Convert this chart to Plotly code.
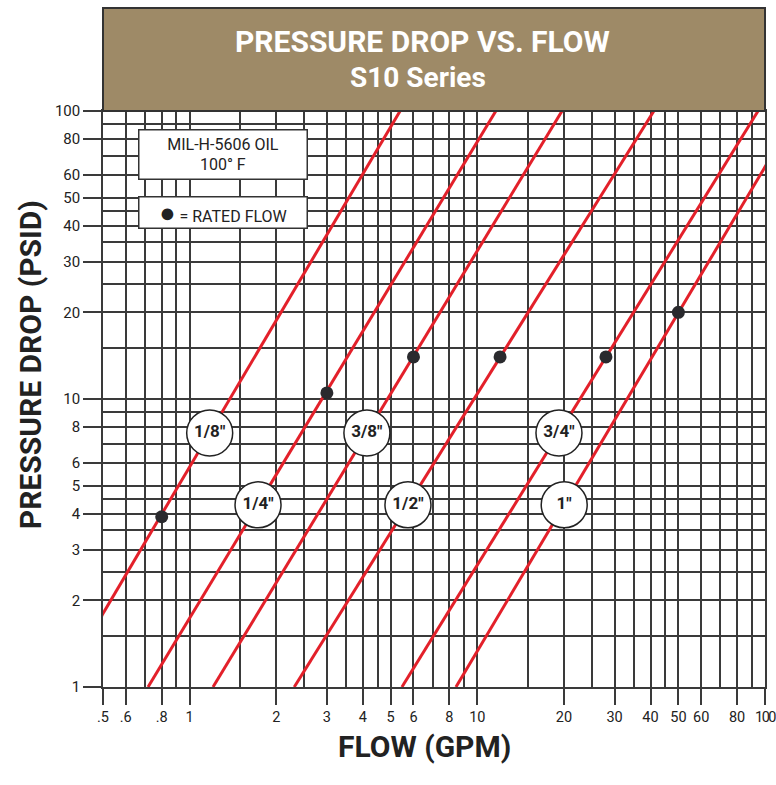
import numpy as np
import plotly.graph_objects as go

# ---------------- data ----------------
sizes = ['1/8"', '1/4"', '3/8"', '1/2"', '3/4"', '1"']
# flow (GPM) where each size's curve crosses 1 PSID and 100 PSID
flow_at_1psid = [0.353, 0.717, 1.206, 2.31, 5.47, 8.43]
flow_at_100psid = [5.39, 11.6, 19.7, 41.1, 94.6, 130.5]
# rated flow points
rated_flow = [0.8, 3.0, 6.0, 12.0, 28.0, 50.0]
rated_dp = [3.9, 10.5, 14.0, 14.0, 14.0, 20.0]
# pressure drop at which each size label sits on its curve
label_dp = [7.62, 4.29, 7.62, 4.29, 7.62, 4.29]

x_tick_vals = [0.5, 0.6, 0.8, 1, 2, 3, 4, 5, 6, 8, 10, 20, 30, 40, 50, 60, 80, 100]
x_tick_text = ['.5', '.6', '.8', '1', '2', '3', '4', '5', '6', '8', '10', '20', '30', '40', '50', '60', '80',
               "<span style='letter-spacing:-1.5px'>100</span>"]
x_minor_vals = [0.7, 0.9, 1.5, 2.5, 3.5, 4.5, 7, 9, 15, 25, 35, 45, 70, 90]
y_tick_vals = [1, 2, 3, 4, 5, 6, 8, 10, 20, 30, 40, 50, 60, 80, 100]
y_tick_text = ['1', '2', '3', '4', '5', '6', '8', '10', '20', '30', '40', '50', '60', '80', '100']
y_minor_vals = [1.5, 2.5, 3.5, 4.5, 7, 9, 15, 25, 35, 45, 70, 90]

FONT = "Roboto, Liberation Sans, sans-serif"
RED = "#E3202A"
GRID = "#3a3a3a"
DARK = "#2a2a2e"

fig = go.Figure()

# curves
for name, q1, q100 in zip(sizes, flow_at_1psid, flow_at_100psid):
    fig.add_trace(go.Scatter(x=[q1, q100], y=[1, 100], mode="lines",
                             line=dict(color=RED, width=3), showlegend=False,
                             hoverinfo="skip"))

# rated flow dots
fig.add_trace(go.Scatter(x=rated_flow, y=rated_dp, mode="markers",
                         marker=dict(color=DARK, size=13), showlegend=False))

# labels in circles, positioned on each curve
lab_x = []
for q1, q100, dp in zip(flow_at_1psid, flow_at_100psid, label_dp):
    slope = 2.0 / np.log10(q100 / q1)
    lab_x.append(q1 * 10 ** (np.log10(dp) / slope))
fig.add_trace(go.Scatter(x=lab_x, y=label_dp, mode="markers+text",
                         text=["<b>" + s + "</b>" for s in sizes], textposition="middle center",
                         textfont=dict(family=FONT, size=17, color="#222"),
                         marker=dict(size=46, color="white",
                                     line=dict(color="#222", width=1.5)),
                         showlegend=False))

axis_common = dict(type="log", tickmode="array", ticks="outside", tickwidth=1.5,
                   tickcolor=GRID, showgrid=True, gridcolor=GRID, gridwidth=1.6,
                   showline=True, linecolor=GRID, linewidth=1.6, mirror=True,
                   zeroline=False, automargin=False, ticklabeloverflow="allow")

fig.update_xaxes(range=[np.log10(0.5), np.log10(100)],
                 tickvals=x_tick_vals, ticktext=x_tick_text, ticklen=16,
                 tickfont=dict(family=FONT, size=14.5, color="#222"),
                 minor=dict(tickmode="array", tickvals=x_minor_vals, showgrid=True,
                            gridcolor=GRID, gridwidth=1.6, ticks=""),
                 **axis_common)
fig.update_yaxes(range=[0, 2],
                 tickvals=y_tick_vals, ticktext=y_tick_text, ticklen=18,
                 tickfont=dict(family=FONT, size=15, color="#222"),
                 minor=dict(tickmode="array", tickvals=y_minor_vals, showgrid=True,
                            gridcolor=GRID, gridwidth=1.6, ticks=""),
                 **axis_common)

# title box
fig.add_shape(type="rect", xref="paper", yref="paper", x0=0, x1=1, y0=1, y1=1.1788,
              fillcolor="#9E8A67", line=dict(color="#333", width=2), layer="above")

annotations = [
    dict(text="<b>PRESSURE DROP VS. FLOW</b>", x=0.482, y=1.1198, xref="paper", yref="paper",
         showarrow=False, font=dict(family=FONT, size=30, color="white"), xanchor="center", yanchor="middle"),
    dict(text="<b>S10 Series</b>", x=0.476, y=1.0573, xref="paper", yref="paper",
         showarrow=False, font=dict(family=FONT, size=28, color="white"), xanchor="center", yanchor="middle"),
    dict(text="<b>PRESSURE DROP (PSID)</b>", x=-0.110, y=0.559, xref="paper", yref="paper",
         showarrow=False, textangle=-90, font=dict(family=FONT, size=30, color="#222"),
         xanchor="center", yanchor="middle"),
    dict(text="<b>FLOW (GPM)</b>", x=0.485, y=-0.104, xref="paper", yref="paper",
         showarrow=False, font=dict(family=FONT, size=30, color="#222"),
         xanchor="center", yanchor="middle"),
    dict(text="MIL-H-5606 OIL<br>100° F", x=0.0529, y=0.96875, xref="paper", yref="paper",
         showarrow=False, xanchor="left", yanchor="top", width=167, height=48,
         bgcolor="white", bordercolor="#333", borderwidth=1.5, borderpad=0,
         font=dict(family=FONT, size=16, color="#222")),
    dict(text="<span style='font-size:27px'>●</span> = RATED FLOW", x=0.0529, y=0.8524,
         xref="paper", yref="paper",
         showarrow=False, xanchor="left", yanchor="top", width=167, height=30,
         bgcolor="white", bordercolor="#333", borderwidth=1.5, borderpad=0,
         font=dict(family=FONT, size=16, color="#222")),
]

fig.update_layout(width=776, height=785,
                  margin=dict(l=103, r=11, t=111, b=98),
                  paper_bgcolor="white", plot_bgcolor="white",
                  annotations=annotations, showlegend=False)

# remove the default page margin / scrollbars so the figure sits at the window origin
post = ("document.documentElement.style.margin='0';document.documentElement.style.overflow='hidden';"
        "document.body.style.margin='0';document.body.style.padding='0';document.body.style.overflow='hidden';")
fig.write_html("out.html", post_script=post, config={"displayModeBar": False})
